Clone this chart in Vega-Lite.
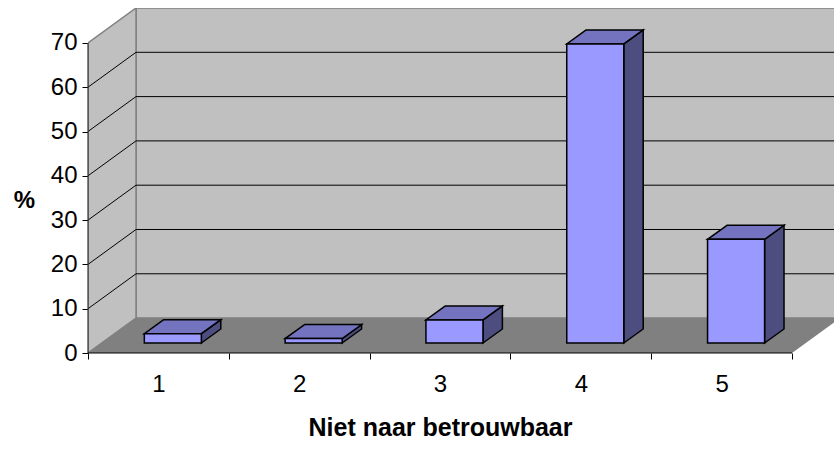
{
"$schema":"https://vega.github.io/schema/vega-lite/v6.json",
"width":746,"height":345,
"autosize":{"type":"none"},
"padding":{"left":88,"top":8,"right":0,"bottom":96},
"background":"white",
"config":{"view":{"stroke":null},"font":"Liberation Sans"},
"params":[
{"name":"wx","value":0.341},{"name":"wy","value":7.88},
{"name":"bx","value":0.138},{"name":"by","value":3.16},{"name":"base","value":2.26}
],
"datasets":{
"bars":[{"category":1,"pct":2.1},{"category":2,"pct":1.0},{"category":3,"pct":5.2},{"category":4,"pct":67.5},{"category":5,"pct":23.4}],
"levels":[{"level":10},{"level":20},{"level":30},{"level":40},{"level":50},{"level":60}],
"depth":[{"t":0},{"t":1}]
},
"encoding":{
"x":{"field":"px","type":"quantitative","stack":null,"title":"Niet naar betrouwbaar","scale":{"domain":[0.5,5.798],"nice":false,"zero":false},
"axis":{"values":[0.5,1.5,2.5,3.5,4.5,5.5],"domain":false,"grid":false,"tickColor":"black","tickSize":6,"tickWidth":1,"labelExpr":"datum.value<5?format(datum.value+0.5,'d'):''","labelOffset":70.4,"labelFontSize":24,"labelColor":"black","labelPadding":13,"labelAngle":0,"titleFontSize":25,"titleFontWeight":"bold","titleColor":"black","titleX":352,"titleY":74,"titleBaseline":"middle","labelFlush":false,"labelOverlap":false}},
"y":{"field":"py","type":"quantitative","stack":null,"title":"%","scale":{"domain":[0,77.88],"nice":false,"zero":false},
"axis":{"values":[0,10,20,30,40,50,60,70],"domain":false,"grid":false,"tickColor":"black","tickSize":6,"tickWidth":1,"labelFontSize":24,"labelColor":"black","labelPadding":5,"titleFontSize":24,"titleFontWeight":"bold","titleColor":"black","titleAngle":0,"titleX":-64,"titleY":192,"titleBaseline":"middle","titleAlign":"center","labelOverlap":false}}
},
"layer":[
{"data":{"name":"depth"},"transform":[{"calculate":"0.5+wx+datum.t*5.5","as":"px"},{"calculate":"wy","as":"py"},{"calculate":"70+wy","as":"py2"}],
"mark":{"type":"area","orient":"vertical","fill":"#c0c0c0","stroke":"#808080","strokeWidth":1.5,"clip":true},"encoding":{"y2":{"field":"py2"}}},
{"data":{"name":"depth"},"transform":[{"calculate":"0.5+datum.t*wx","as":"px"},{"calculate":"datum.t*wy","as":"py"},{"calculate":"70+datum.t*wy","as":"py2"}],
"mark":{"type":"area","orient":"vertical","fill":"#c0c0c0","stroke":"#808080","strokeWidth":1.5,"clip":true},"encoding":{"y2":{"field":"py2"}}},
{"data":{"name":"depth"},"transform":[{"calculate":"0.5+datum.t*wx","as":"px"},{"calculate":"5.5+datum.t*wx","as":"px2"},{"calculate":"datum.t*wy","as":"py"}],
"mark":{"type":"area","orient":"horizontal","fill":"#808080","clip":true},"encoding":{"x2":{"field":"px2"}}},
{"data":{"name":"levels"},"transform":[{"calculate":"[0,1,2]","as":"t"},{"flatten":["t"]},{"calculate":"[0.5,0.5+wx,5.9][datum.t]","as":"px"},{"calculate":"datum.level+(datum.t>0?wy:0)","as":"py"}],
"mark":{"type":"line","color":"black","strokeWidth":1,"clip":true},"encoding":{"detail":{"field":"level"}}},
{"data":{"name":"depth"},"transform":[{"calculate":"0.5","as":"px"},{"calculate":"70*datum.t","as":"py"}],
"mark":{"type":"line","color":"#333333","strokeWidth":1.2},"encoding":{"order":{"field":"t"}}},
{"data":{"name":"depth"},"transform":[{"calculate":"0.5+5*datum.t","as":"px"},{"calculate":"0","as":"py"}],
"mark":{"type":"line","color":"black","strokeWidth":1.2}},
{"data":{"name":"bars"},"transform":[{"calculate":"[0,1]","as":"t"},{"flatten":["t"]},{"calculate":"datum.category+0.305+datum.t*bx","as":"px"},{"calculate":"base+datum.t*by","as":"py"},{"calculate":"base+datum.pct+datum.t*by","as":"py2"}],
"mark":{"type":"area","orient":"vertical","fill":"#4d4d80","stroke":"black","strokeWidth":1.5},"encoding":{"y2":{"field":"py2"},"detail":{"field":"category"}}},
{"data":{"name":"bars"},"transform":[{"calculate":"[0,1]","as":"t"},{"flatten":["t"]},{"calculate":"datum.category-0.1+datum.t*bx","as":"px"},{"calculate":"datum.category+0.305+datum.t*bx","as":"px2"},{"calculate":"base+datum.pct+datum.t*by","as":"py"}],
"mark":{"type":"area","orient":"horizontal","fill":"#7373bf","stroke":"black","strokeWidth":1.5},"encoding":{"x2":{"field":"px2"},"detail":{"field":"category"}}},
{"data":{"name":"bars"},"transform":[{"calculate":"datum.category-0.1","as":"px"},{"calculate":"datum.category+0.305","as":"px2"},{"calculate":"base","as":"py"},{"calculate":"base+datum.pct","as":"py2"}],
"mark":{"type":"rect","fill":"#9999ff","stroke":"black","strokeWidth":1.5},"encoding":{"x2":{"field":"px2"},"y2":{"field":"py2"}}}
]
}
